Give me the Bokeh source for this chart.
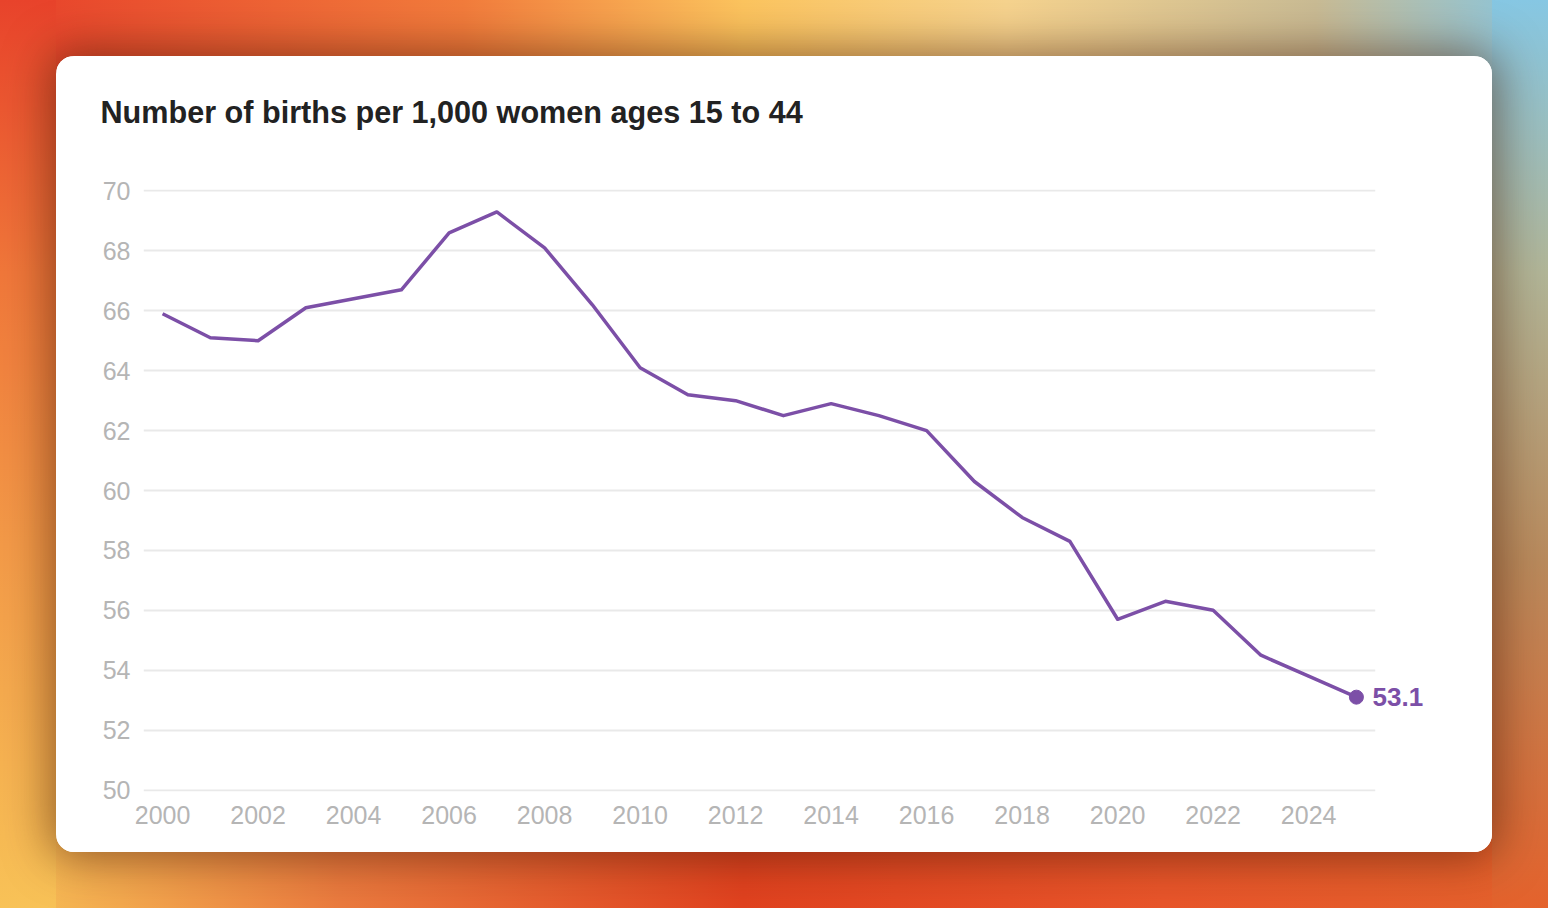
from bokeh.plotting import figure
from bokeh.models import Range1d, FixedTicker, LinearAxis, Title
from bokeh.layouts import column
from bokeh.embed import file_html
from bokeh.resources import INLINE

# ---- data ----
years = list(range(2000, 2026))
rates = [65.9, 65.1, 65.0, 66.1, 66.4, 66.7, 68.6, 69.3, 68.1, 66.2,
         64.1, 63.2, 63.0, 62.5, 62.9, 62.5, 62.0, 60.3, 59.1, 58.3,
         55.7, 56.3, 56.0, 54.5, 53.8, 53.1]
x_ticks = list(range(2000, 2025, 2))
y_ticks = list(range(50, 71, 2))
title_text = "Number of births per 1,000 women ages 15 to 44"

PURPLE = "#7c4fa7"
GRAY = "#b5b5b5"
FONT = "Liberation Sans"

p = figure(width=1436, height=796, output_backend="svg", toolbar_location=None,
           x_range=Range1d(1999.6, 2025.4), y_range=Range1d(49.95, 70.05),
           min_border_left=87, min_border_right=117, min_border_top=133,
           min_border_bottom=61)
p.border_fill_color = "white"
p.background_fill_color = "white"
p.outline_line_color = None

p.title.text = title_text
p.title.text_font = FONT
p.title.text_font_style = "bold"
p.title.text_font_size = "30.6px"
p.title.text_color = "#222222"
p.title.align = "left"
p.title.offset = -43
p.title.standoff = 0

# empty spacer between the title and the plot area
p.add_layout(Title(text=" ", text_font_size="2px", standoff=57), "above")

p.xgrid.visible = False
p.ygrid.grid_line_color = "#e9e9e9"
p.ygrid.grid_line_width = 2
p.yaxis.ticker = FixedTicker(ticks=y_ticks)
p.xaxis.ticker = FixedTicker(ticks=x_ticks)

end_axis = LinearAxis(ticker=FixedTicker(ticks=[rates[-1]]),
                      major_label_overrides={rates[-1]: f"{rates[-1]}"})
p.add_layout(end_axis, "right")

for ax in (p.xaxis[0], p.yaxis[0], end_axis):
    ax.axis_line_color = None
    ax.major_tick_line_color = None
    ax.minor_tick_line_color = None
    ax.major_tick_out = 0
    ax.major_tick_in = 0
    ax.major_label_text_font = FONT
    ax.major_label_text_font_size = "25px"
    ax.major_label_text_color = GRAY
p.xaxis[0].major_label_standoff = 14
p.yaxis[0].major_label_standoff = 13
end_axis.major_label_standoff = -3
end_axis.major_label_text_color = PURPLE
end_axis.major_label_text_font_style = "bold"
end_axis.major_label_text_font_size = "26px"

p.line(years, rates, line_color=PURPLE, line_width=3.5, line_join="round")
p.scatter([years[-1]], [rates[-1]], size=14, color=PURPLE)

p.margin = (56, 56, 56, 56)
p.styles = {"border-radius": "18px", "overflow": "hidden",
            "background-color": "white",
            "box-shadow": "0 0 45px 6px rgba(70,25,8,0.55)"}

bg = ", ".join([
    "linear-gradient(180deg, #e8432b 0%, #f0773a 30%, #f39a48 60%, #f8c257 100%) left top / 56px 100% no-repeat",
    "linear-gradient(180deg, #86c7e3 0%, #b1b597 30%, #b98a5c 62%, #e4622c 100%) right top / 56px 100% no-repeat",
    "linear-gradient(90deg, #e8412b 0%, #f27c3c 30%, #fcc45e 48%, #f6d38e 65%, #c9bb94 85%, #86c7e3 100%) left top / 100% 50% no-repeat",
    "linear-gradient(90deg, #f8c257 0%, #ea7a3e 22%, #e0421f 48%, #e8552a 75%, #e4622c 100%) left bottom / 100% 50% no-repeat",
])
layout = column(p, styles={"background": bg})

open("out.html", "w").write(file_html(layout, INLINE))
